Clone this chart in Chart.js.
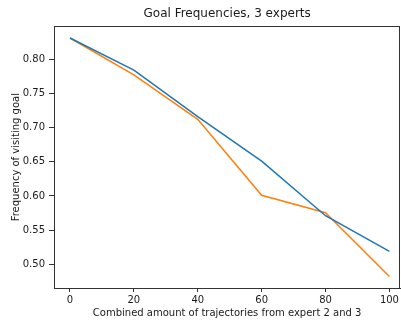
<!DOCTYPE html>
<html>
<head>
<meta charset="utf-8">
<script src="https://cdn.jsdelivr.net/npm/chart.js@4"></script>
<style>
html,body{margin:0;padding:0;background:#fff;}
#wrap{width:401px;height:320px;position:relative;}
</style>
</head>
<body>
<div id="wrap"><canvas id="c" width="401" height="320"></canvas></div>
<script>
const xValues = [0, 20, 40, 60, 80, 100];
const seriesBlue = [0.831, 0.784, 0.716, 0.651, 0.571, 0.519];
const seriesOrange = [0.831, 0.777, 0.712, 0.601, 0.5755, 0.482];
const xTicks = [0, 20, 40, 60, 80, 100];
const yTicks = [0.50, 0.55, 0.60, 0.65, 0.70, 0.75, 0.80];
const chartTitle = 'Goal Frequencies, 3 experts';
const xTitle = 'Combined amount of trajectories from expert 2 and 3';
const yTitle = 'Frequency of visiting goal';

const FONT = 'DejaVu Sans';
const TXT = '#1a1a1a';

const frame = {
  id: 'frame',
  afterDatasetsDraw(chart) {
    const {ctx, chartArea: a} = chart;
    ctx.save();
    ctx.strokeStyle = '#333';
    ctx.lineWidth = 1;
    ctx.strokeRect(Math.round(a.left) + 0.5, Math.round(a.top) + 0.5, Math.round(a.right - a.left) - 1, Math.round(a.bottom - a.top));
    ctx.restore();
  }
};

new Chart(document.getElementById('c'), {
  type: 'line',
  data: {
    datasets: [
      { data: xValues.map((x, i) => ({x, y: seriesBlue[i]})), borderColor: '#1f77b4', borderWidth: 1.5, pointRadius: 0, tension: 0, fill: false },
      { data: xValues.map((x, i) => ({x, y: seriesOrange[i]})), borderColor: '#ff7f0e', borderWidth: 1.5, pointRadius: 0, tension: 0, fill: false }
    ]
  },
  options: {
    responsive: false,
    animation: false,
    layout: { padding: { right: 0, top: 0, left: 0, bottom: 0 } },
    plugins: {
      legend: { display: false },
      tooltip: { enabled: false },
      title: {
        display: true, text: chartTitle, fullSize: false, color: TXT,
        font: { family: FONT, size: 12, weight: 'normal', lineHeight: 1.2 },
        padding: { top: 7, bottom: 5 }
      }
    },
    scales: {
      x: {
        type: 'linear', min: -5, max: 103.4,
        afterBuildTicks(s) { s.ticks = xTicks.map(v => ({value: v})); },
        afterFit(s) { s.height = 32; },
        ticks: { color: TXT, font: { family: FONT, size: 10 }, padding: 2, maxRotation: 0, autoSkip: false },
        grid: { drawOnChartArea: false, drawTicks: true, tickLength: 4, color: '#333', lineWidth: 1 },
        border: { display: true, color: '#333', width: 1 },
        title: { display: true, text: xTitle, color: TXT, font: { family: FONT, size: 10, lineHeight: 1.2 }, padding: { top: 0, bottom: 1 } }
      },
      y: {
        type: 'linear', min: 0.4653, max: 0.848,
        afterBuildTicks(s) { s.ticks = yTicks.map(v => ({value: v})); },
        afterFit(s) { s.width = 54; },
        ticks: { color: TXT, font: { family: FONT, size: 10 }, padding: 4, autoSkip: false, callback: v => Number(v).toFixed(2) },
        grid: { drawOnChartArea: false, drawTicks: true, tickLength: 5, color: '#333', lineWidth: 1 },
        border: { display: true, color: '#333', width: 1 },
        title: { display: true, text: yTitle, color: TXT, font: { family: FONT, size: 10, lineHeight: 1.2 }, padding: { top: 10, bottom: 0 } }
      }
    }
  },
  plugins: [frame]
});
</script>
</body>
</html>
